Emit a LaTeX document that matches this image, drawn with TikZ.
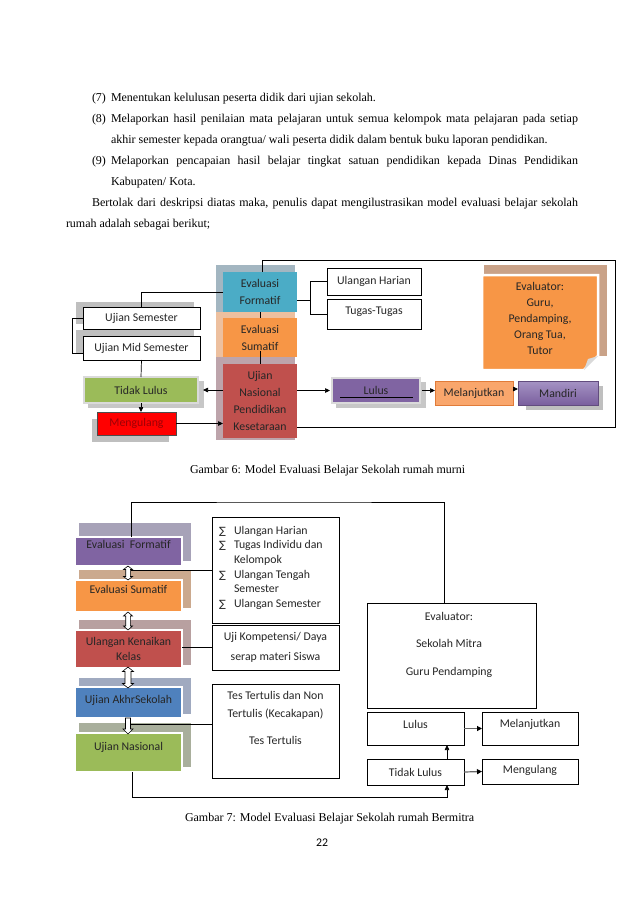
\documentclass[tikz,border=0pt]{standalone}
\usepackage{fontspec}
\setmainfont{Liberation Serif}
\newfontfamily\carlito{Carlito}
\newfontfamily\dejavu{DejaVu Sans}
\usetikzlibrary{arrows.meta}
\definecolor{cyanF}{HTML}{4BACC6}
\definecolor{orangeF}{HTML}{F79646}
\definecolor{redF}{HTML}{C0504D}
\definecolor{purpleF}{HTML}{8064A2}
\definecolor{blueF}{HTML}{4F81BD}
\definecolor{greenF}{HTML}{9BBB59}
\definecolor{shF}{HTML}{A3B6C1}
\definecolor{shS}{HTML}{EDC09F}
\definecolor{shU}{HTML}{BDA4AB}
\definecolor{shGrey}{HTML}{BFBFBF}
\definecolor{glow}{HTML}{DADADA}
\definecolor{mengText}{HTML}{9C0006}
\definecolor{mjFill}{HTML}{F9A66C}
\definecolor{mjLine}{HTML}{E07B39}
\definecolor{mdTop}{HTML}{A593C4}
\definecolor{mdBot}{HTML}{7A5F9E}
\definecolor{evBack}{HTML}{C9A288}
\definecolor{shtwoF}{HTML}{A7A2B8}
\definecolor{shtwoS}{HTML}{CBA98E}
\definecolor{shtwoU}{HTML}{B8A0A0}
\definecolor{shtwoA}{HTML}{A0AAC0}
\definecolor{shtwoN}{HTML}{A9AF9C}
\newcommand\sgm{\makebox[15pt][l]{\dejavu\fontsize{10}{12}\selectfont ∑}}
\newcommand\sgi{\hspace*{15pt}}
\begin{document}
\begin{tikzpicture}[x=1pt,y=-1pt,
  body/.style={anchor=base west, inner sep=0pt, outer sep=0pt, font=\fontsize{12}{14}\selectfont},
  lbl/.style={font=\carlito\fontsize{11.8}{17}\selectfont, text=black!85, align=center, inner sep=0pt, outer sep=0pt},
  wh/.style 2 args={minimum width=#1, minimum height=#2},
  dn/.style={text height=7.5pt, text depth=#1},
  conn/.style={line width=0.7pt, draw=black},
  arr/.style={conn, -{Triangle[length=5pt,width=4.5pt]}},
  arrg/.style={line width=1.2pt, draw=black!60, -{Triangle[length=5pt,width=5pt,color=black]}},
  wbox/.style={lbl, draw=black, line width=0.8pt, fill=white},
  fbox/.style={lbl, draw=white, line width=2pt},
  hol/.style={draw=black, line width=0.6pt, fill=white},
]
\useasboundingbox[fill=white] (0,0) rectangle (638,903);
% ---------------- body text
\node[body] (n7) at (92,101.5) {(7)};
\node[body] (t7) at (111,101.5) {Menentukan kelulusan peserta didik dari ujian sekolah.};
\node[body] (n8) at (92,122.5) {(8)};
\node[body] (t8) at (111,122.5) {\makebox[467pt][s]{Melaporkan hasil penilaian mata pelajaran untuk semua kelompok mata pelajaran pada setiap}};
\node[body] (t8b) at (111,143.5) {akhir semester kepada orangtua/ wali peserta didik dalam bentuk buku laporan pendidikan.};
\node[body] (n9) at (92,164.5) {(9)};
\node[body] (t9) at (111,164.5) {\makebox[467pt][s]{Melaporkan pencapaian hasil belajar tingkat satuan pendidikan kepada Dinas Pendidikan}};
\node[body] (t9b) at (111,185.5) {Kabupaten/ Kota.};
\node[body] (p1) at (92,206.5) {\makebox[486pt][s]{Bertolak dari deskripsi diatas maka, penulis dapat mengilustrasikan model evaluasi belajar sekolah}};
\node[body] (p2) at (66,227.5) {rumah adalah sebagai berikut;};
% ---------------- diagram 1
\fill[shF] (216,265) rectangle (295,312);
\fill[shS] (216,312) rectangle (295,357);
\fill[shU] (216,357) rectangle (295,440);
\node[lbl, wh={74pt}{40pt}, fill=cyanF] (F1) at (260,292) {Evaluasi\\Formatif};
\node[lbl, wh={74pt}{39pt}, fill=orangeF] (S1) at (260,337.5) {Evaluasi\\Sumatif};
\node[lbl, wh={74pt}{74pt}, fill=redF] (U1) at (260,401) {Ujian\\Nasional\\Pendidikan\\Kesetaraan};
\fill[shGrey] (76,302) rectangle (194,324);
\node[wbox, wh={117pt}{22pt}] (US1) at (141.5,318) {Ujian Semester};
\fill[shGrey] (76,330) rectangle (194,354);
\node[wbox, wh={117pt}{24pt}] (MS1) at (141.5,348) {Ujian Mid Semester};
\fill[black!22] (88,381) rectangle (204,408);
\node[lbl, wh={114pt}{26pt}, fill=greenF, draw=glow, line width=2.5pt] (TL1) at (141,390) {Tidak Lulus};
\fill[shGrey] (92,419) rectangle (169,442);
\node[lbl, wh={79pt}{23pt}, fill=red, draw=black!70, line width=0.6pt, text=mengText] (ME1) at (136.5,423.5) {Mengulang};
\fill[black!22] (336,382) rectangle (426,408);
\node[lbl, wh={88pt}{25pt}, fill=purpleF, draw=glow, line width=2.5pt] (LU1) at (376,390.5) {Lulus};
\draw[line width=0.7pt] (340,397) -- (413,397);
\node[lbl, wh={78pt}{24pt}, fill=mjFill, draw=mjLine, line width=0.6pt] (MJ1) at (474,393) {Melanjutkan};
\fill[black!25] (526,386) rectangle (603,410);
\node[lbl, wh={80pt}{24pt}, top color=mdTop, bottom color=mdBot, draw=mdBot!80!black, line width=0.5pt] (MD1) at (558,393) {Mandiri};
\fill[evBack] (484,265) rectangle (607,356);
\filldraw[fill=orangeF, draw=white, line width=2.5pt] (482,275) -- (598,275) -- (598,356) -- (584,370) -- (482,370) -- cycle;
\fill[black!15] (584,370) -- (588,359) -- (598,356) -- cycle;
\node[lbl, font=\carlito\fontsize{11.8}{16}\selectfont] (EV1) at (540,318) {Evaluator:\\Guru,\\Pendamping,\\Orang Tua,\\Tutor};
\node[wbox, wh={94pt}{27pt}] (UH1) at (374,281.5) {Ulangan Harian};
\node[wbox, wh={94pt}{30pt}, dn=6pt] (TT1) at (374,314) {Tugas-Tugas};
% connectors diagram 1
\draw[conn] (F1.west) -| (US1.north);
\draw[conn] (US1.west) -- ++(-11,0) -- ++(0,35) -- ([yshift=-5pt]MS1.west);
\draw[conn] (MS1.south) -- (TL1.north);
\draw[conn] (F1.south) -- (S1.north);
\draw[conn] ([yshift=6pt]S1.south) -- (U1.north);
\coordinate (bk) at (310,300);
\draw[conn] ([yshift=-8pt]F1.east) -- (bk);
\draw[conn] (UH1.west) -| (bk);
\draw[conn] (TT1.west) -| (bk);
\coordinate (fr1) at (615,427);
\coordinate (fr2) at (615,260);
\draw[conn] ([yshift=-26pt]U1.east) -- (fr1) -- (fr2) -| ([xshift=2pt]F1.north);
\draw[arr] (U1.west |- TL1.east) -- ([xshift=5pt]TL1.east);
\draw[arr] (TL1.south) -- (TL1.south |- ME1.north);
\draw[arr] (ME1.east) -- (ME1.east -| U1.west);
\draw[arr] (U1.east |- LU1.west) -- ([xshift=-2pt]LU1.west);
\draw[arr] ([xshift=2pt]LU1.east) -- (LU1.east -| MJ1.west);
\draw[arr] ([yshift=4pt]MJ1.east) -- ([yshift=4pt]MD1.west);
\node[body] (cap1) at (190,473.5) {Gambar 6: Model Evaluasi Belajar Sekolah rumah murni};
% ---------------- diagram 2
\fill[shtwoF] (79,523) rectangle (191,561);
\node[fbox, wh={107pt}{29pt}, fill=purpleF, dn=13pt] (F2) at (128.5,551.5) {Evaluasi\ \ Formatif};
\fill[shtwoS] (79,570) rectangle (191,608);
\node[fbox, wh={107pt}{32pt}, fill=orangeF, dn=12pt] (S2) at (128.5,596) {Evaluasi Sumatif};
\fill[shtwoU] (79,620) rectangle (191,665);
\node[fbox, wh={107pt}{38pt}, fill=redF, font=\carlito\fontsize{11.8}{15}\selectfont] (UK2) at (128.5,649) {Ulangan Kenaikan\\Kelas};
\fill[shtwoA] (79,678) rectangle (191,714);
\node[fbox, wh={107pt}{31pt}, fill=blueF, dn=5pt] (AS2) at (128.5,702.5) {Ujian AkhrSekolah};
\fill[shtwoN] (79,723) rectangle (191,767);
\node[fbox, wh={107pt}{39pt}, fill=greenF, dn=11pt] (UN2) at (128.5,752.5) {Ujian Nasional};
% hollow arrows
\filldraw[hol] (125.7,569.5) -- (123.5,569.5) -- (128,566) -- (132.5,569.5) -- (130.3,569.5) -- (130.3,576.5) -- (132.5,576.5) -- (128,580) -- (123.5,576.5) -- (125.7,576.5) -- cycle;
\filldraw[hol] (125.7,616) -- (123.5,616) -- (128,612) -- (132.5,616) -- (130.3,616) -- (130.3,626) -- (132.5,626) -- (128,630) -- (123.5,626) -- (125.7,626) -- cycle;
\filldraw[hol] (125,671.5) -- (122.5,671.5) -- (128,667) -- (133.5,671.5) -- (131,671.5) -- (131,683.5) -- (133.5,683.5) -- (128,688) -- (122.5,683.5) -- (125,683.5) -- cycle;
\filldraw[hol] (125.5,718) -- (130.5,718) -- (130.5,729) -- (133,729) -- (128,734) -- (123,729) -- (125.5,729) -- cycle;
% boxes right
\node[wbox, wh={127pt}{106pt}] (SG2) at (275.5,570) {};
\node[lbl, anchor=north west, align=left, font=\carlito\fontsize{11.8}{14.6}\selectfont] (SGT) at (219,526) {\sgm Ulangan Harian\\ \sgm Tugas Individu dan\\ \sgi Kelompok\\ \sgm Ulangan Tengah\\ \sgi Semester\\ \sgm Ulangan Semester};
\node[wbox, wh={127pt}{45pt}, font=\carlito\fontsize{11.8}{20}\selectfont] (UJ2) at (275.5,647.5) {Uji Kompetensi/ Daya\\serap materi Siswa};
\node[wbox, wh={127pt}{94pt}] (TS2) at (275.5,731) {};
\node[lbl, font=\carlito\fontsize{11.8}{18}\selectfont] (TST) at (275.5,717.5) {Tes Tertulis dan Non\\Tertulis (Kecakapan)\\[9pt]Tes Tertulis};
\node[wbox, wh={169pt}{105pt}] (EV2) at (451.5,655.5) {};
\node[lbl, font=\carlito\fontsize{11.8}{27.5}\selectfont] (EVT) at (449,644.5) {Evaluator:\\Sekolah Mitra\\Guru Pendamping};
\node[wbox, wh={97pt}{33pt}, dn=7pt] (LU2) at (415.5,728.5) {Lulus};
\node[wbox, wh={96pt}{33pt}, dn=9pt] (MJ2) at (530,728.5) {Melanjutkan};
\node[wbox, wh={97pt}{26pt}] (TL2) at (415.5,772) {Tidak Lulus};
\node[wbox, wh={96pt}{25pt}, dn=3pt] (MG2) at (530,771.5) {Mengulang};
% connectors diagram 2
\coordinate (ct) at (300,502);
\draw[conn] ([xshift=2.5pt]F2.north) |- (ct) -| ([xshift=-7.5pt]EV2.north);
\coordinate (aonr) at (131,570);
\draw[conn] (SG2.west) -- (aonr);
\draw[conn] (UJ2.west) -- (UJ2.west -| UK2.east);
\coordinate (afor) at (131,724);
\draw[conn] (TS2.west |- afor) -- (afor);
\coordinate (cb) at (300,797);
\draw[arr] ([xshift=3.5pt]UN2.south) |- (cb) -| ([xshift=31.5pt]TL2.south);
\draw[arr] ([xshift=31.5pt]TL2.north) -- ([xshift=31.5pt]LU2.south);
\draw[arrg] (LU2.east) -- (MJ2.west);
\draw[arrg] (TL2.east) -- (MG2.west);
\node[body] (cap2) at (185,821.5) {Gambar 7: Model Evaluasi Belajar Sekolah rumah Bermitra};
\node[lbl, text=black] (pg) at (322,843) {22};
\end{tikzpicture}
\end{document}
